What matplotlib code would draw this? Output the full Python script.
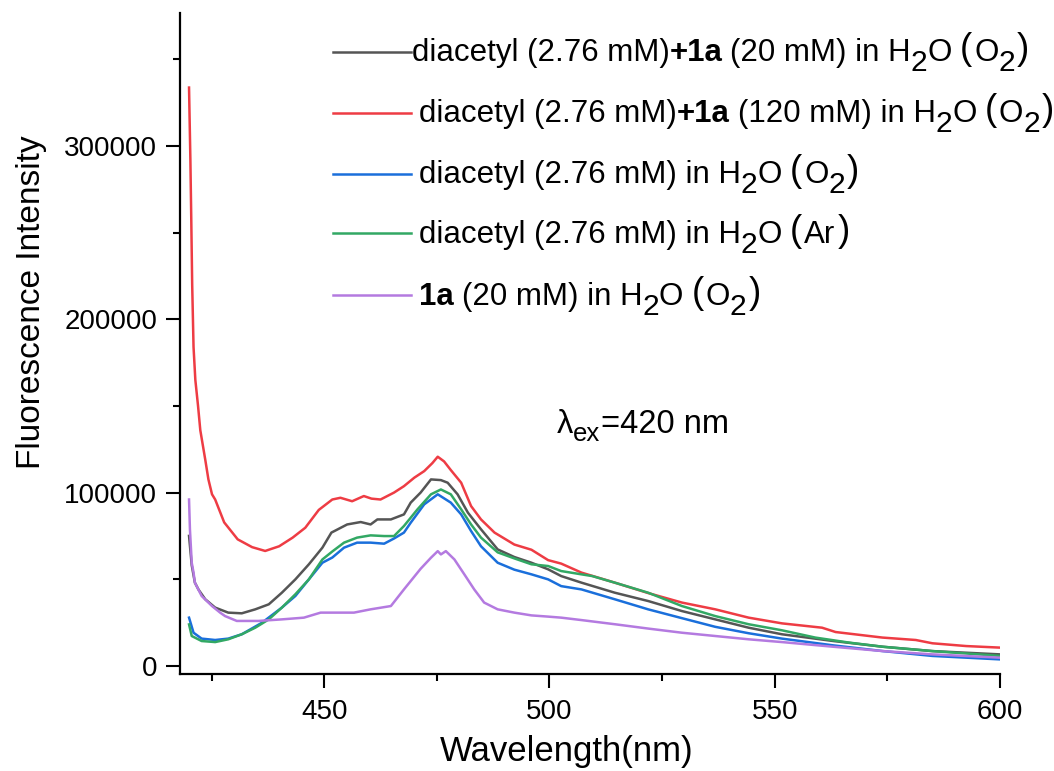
import matplotlib
matplotlib.use('Agg')
import matplotlib.pyplot as plt
from matplotlib.ticker import MultipleLocator
from matplotlib.lines import Line2D
from matplotlib.transforms import IdentityTransform

plt.rcParams['font.family'] = ['Liberation Sans', 'DejaVu Sans']

# Spectra (wavelength in nm, intensity in thousands)
x_gray = [420.0, 420.6, 421.3, 422.1, 423.6, 425.8, 428.7, 431.7, 434.7, 437.7, 440.6, 443.6,
          446.6, 449.6, 451.6, 455.1, 458.1, 460.3, 461.8, 464.8, 467.7, 469.2, 471.4, 473.7,
          475.9, 477.4, 479.6, 481.9, 484.8, 488.5, 492.2, 496.0, 499.7, 502.6, 507.1, 514.5,
          521.9, 529.4, 536.8, 544.2, 551.6, 563.0, 574.0, 585.0, 600.0]
y_gray = [75, 58, 48, 44, 38.4, 33.6, 30.7, 30.3, 32.6, 35.5, 42.2, 49.9,
          58.6, 68.2, 76.9, 81.6, 83, 81.6, 84.5, 84.5, 87.4, 94.2, 100, 107.6,
          107.2, 105.7, 99, 88.4, 78.8, 67.2, 62.8, 59.5, 55.7, 51.8, 48, 42.2,
          37.4, 31.6, 26.8, 22, 18.2, 14.3, 11, 8.5, 6.6]

x_red = [420.0, 420.3, 420.5, 420.7, 421.0, 421.4, 422.0, 422.5, 423.6, 424.3, 425.1, 425.8,
         427.8, 430.8, 434.0, 436.9, 440.0, 443.0, 445.8, 448.8, 451.8, 453.6, 456.2, 458.8,
         460.5, 462.5, 465.5, 467.7, 470.0, 472.2, 474.0, 475.2, 476.6, 478.1, 480.4, 482.6,
         484.8, 487.8, 492.2, 496.0, 499.7, 502.6, 507.1, 514.5, 521.9, 529.4, 536.8, 544.2,
         551.6, 560.5, 563.5, 573.9, 581.3, 585.0, 592.5, 600.0]
y_red = [333.8, 292, 257, 220, 184, 165, 150, 136, 119, 107.6, 99, 96,
         82.8, 73, 68.5, 66.3, 69, 74, 79.7, 90, 96, 97, 95, 98,
         96.5, 96, 100, 103.7, 108.6, 112.4, 117, 120.7, 118, 113, 105.7, 92.2,
         84.5, 76.9, 70, 67, 61, 59, 53.8, 48, 42, 36.5, 32.6, 27.8,
         24.5, 22, 19.5, 16.3, 14.9, 13, 11.4, 10.5]

x_blue = [420.0, 421.0, 422.8, 425.8, 428.7, 431.7, 436.2, 440.6, 443.6, 446.6, 449.6, 451.8,
          454.4, 457.3, 460.3, 463.3, 465.5, 467.7, 469.2, 472.2, 475.2, 478.1, 480.4, 482.6,
          484.8, 488.5, 492.2, 496.0, 499.7, 502.6, 507.1, 514.5, 521.9, 529.4, 536.8, 544.2,
          551.6, 563.0, 574.0, 585.0, 600.0]
y_blue = [27.8, 19.1, 15.7, 14.9, 15.7, 18.2, 24.9, 33.6, 40.3, 49.9, 59.5, 62.5,
          68.2, 71.1, 71.1, 70.5, 73.5, 76.9, 82.6, 93.2, 99, 94.2, 87.4, 77.8,
          69, 59.5, 55.5, 52.8, 49.9, 46, 44.1, 38.4, 32.6, 27.5, 22.5, 18.8,
          15.7, 11.8, 8.5, 5.7, 3.7]

x_green = [420.0, 420.6, 422.8, 425.8, 428.7, 431.7, 434.7, 437.7, 440.6, 443.6, 446.6, 449.6,
           451.8, 454.4, 457.3, 460.3, 463.3, 465.5, 467.7, 470.7, 473.7, 475.9, 478.1, 480.4,
           482.6, 484.8, 488.5, 492.2, 496.0, 499.7, 502.6, 507.1, 509.5, 514.5, 521.9, 529.4,
           536.8, 544.2, 551.6, 559.0, 566.5, 574.0, 585.0, 600.0]
y_green = [23.9, 17.2, 14.3, 13.7, 15.3, 18.2, 22, 26.8, 33.6, 41.3, 49.9, 61.4,
           66, 71.1, 74, 75.3, 74.9, 74.9, 80.7, 90.3, 99, 101.8, 99, 90.3,
           81.6, 74, 65.5, 62, 58.6, 57.6, 54.7, 52.8, 51.8, 48, 42.2, 34.5,
           28.7, 24, 20.5, 16.3, 13.4, 11, 8.5, 5.7]

x_purple = [420.0, 420.2, 420.6, 421.0, 421.3, 422.8, 425.1, 426.9, 428.0, 430.6, 435.4, 440.6,
            445.5, 449.2, 452.5, 456.6, 460.3, 464.8, 467.7, 471.4, 473.7, 475.2, 475.9, 477.0,
            478.9, 481.1, 483.3, 485.5, 488.5, 492.2, 496.0, 499.7, 502.6, 507.1, 514.5, 521.9,
            529.4, 536.8, 544.2, 551.6, 563.0, 574.0, 585.0, 600.0]
y_purple = [96, 78.8, 59.5, 53.8, 48, 40.3, 34.5, 30.7, 28.7, 25.9, 25.9, 26.8,
            27.8, 30.7, 30.7, 30.7, 32.6, 34.5, 44.1, 56, 62.4, 66.2, 64.3, 66.2,
            61.4, 52.8, 44.1, 36.5, 32.6, 30.7, 29.1, 28.4, 27.8, 26.4, 24, 21.5,
            19.1, 17.2, 15.3, 13.7, 11, 8.5, 6.6, 4.7]

colors = ['#555555', '#ee3c44', '#1a6fdb', '#32a864', '#b47ae0']

# legend labels as pieces: (text, kind) with n=normal, b=bold, s=subscript, p=big paren, ' '=space
labels = [
    [('diacetyl (2.76 mM)', 'n'), ('+1a', 'b'), ' ', ('(20 mM) in H', 'n'), ('2', 's'), ('O', 'n'),
     ' ', ('(', 'p'), ('O', 'n'), ('2', 's'), (')', 'p')],
    [('diacetyl (2.76 mM)', 'n'), ('+1a', 'b'), ' ', ('(120 mM) in H', 'n'), ('2', 's'), ('O', 'n'),
     ' ', ('(', 'p'), ('O', 'n'), ('2', 's'), (')', 'p')],
    [('diacetyl (2.76 mM) in H', 'n'), ('2', 's'), ('O', 'n'),
     ' ', ('(', 'p'), ('O', 'n'), ('2', 's'), (')', 'p')],
    [('diacetyl (2.76 mM) in H', 'n'), ('2', 's'), ('O', 'n'),
     ' ', ('(', 'p'), ('Ar', 'n'), (')', 'p')],
    [('1a', 'b'), ' ', ('(20 mM) in H', 'n'), ('2', 's'), ('O', 'n'),
     ' ', ('(', 'p'), ('O', 'n'), ('2', 's'), (')', 'p')],
]

series = [(x_gray, y_gray), (x_red, y_red), (x_blue, y_blue),
          (x_green, y_green), (x_purple, y_purple)]

W, H = 1054, 771
fig = plt.figure(figsize=(W / 100, H / 100), dpi=100)
ax = fig.add_axes([0.1708, 0.1252, 0.778, 0.8583])

for (xs, ys), col in zip(series, colors):
    ax.plot(xs, [v * 1000 for v in ys], color=col, lw=1.8)

ax.set_xlim(418, 600)
ax.set_ylim(-5000, 377000)
ax.xaxis.set_major_locator(MultipleLocator(50))
ax.xaxis.set_minor_locator(MultipleLocator(25))
ax.yaxis.set_major_locator(MultipleLocator(100000))
ax.yaxis.set_minor_locator(MultipleLocator(50000))
ax.spines['top'].set_visible(False)
ax.spines['right'].set_visible(False)
for s in ['left', 'bottom']:
    ax.spines[s].set_linewidth(1.6)
ax.tick_params(which='major', length=10, width=1.5, labelsize=20)
ax.tick_params(axis='y', which='major', pad=6.5)
ax.tick_params(axis='x', which='major', pad=7.5)
ax.tick_params(which='minor', length=5, width=1.5)

ax.set_xlabel('Wavelength(nm)', fontsize=25)
ax.set_ylabel('Fluorescence Intensity', fontsize=24)
ax.xaxis.set_label_coords(0.472, -0.091)
ax.yaxis.set_label_coords(-0.162, 0.563)

renderer = fig.canvas.get_renderer()
pix = IdentityTransform()


def put_pieces(x, y_img, pieces, base=22.5):
    # writes text pieces left to right, baseline at image row y_img
    y = H - y_img
    for pc in pieces:
        if pc == ' ':
            x += 8
            continue
        txt, kind = pc
        size, weight, dy, gap = base, 'normal', 0, 0
        if kind == 'b':
            weight = 'bold'
        elif kind == 's':
            size, dy = base - 1, -10
        elif kind == 's2':
            size, dy = base - 5, -8
        elif kind == 'p':
            size, dy, gap = base + 4, 2, 2
        t = fig.text(x + gap if txt == ')' else x, y + dy, txt, fontsize=size,
                     fontweight=weight, va='baseline', ha='left', transform=pix)
        x += t.get_window_extent(renderer).width + gap


# legend drawn by hand so the sub-/super-sizing matches
row_y = [51.7, 112.7, 174, 233.3, 295.3]
text_x = [411.5, 419, 419, 419, 419]
for col, pieces, yy, tx in zip(colors, labels, row_y, text_x):
    fig.add_artist(Line2D([333, 411], [H - yy, H - yy], color=col, lw=1.8,
                          transform=pix))
    put_pieces(tx, yy + 9.3, pieces)

# excitation wavelength note
put_pieces(557, 433, [('λ', 'n'), ('ex', 's2'), ('=420 nm', 'n')], base=23.5)

plt.savefig('out.png', dpi=100)
